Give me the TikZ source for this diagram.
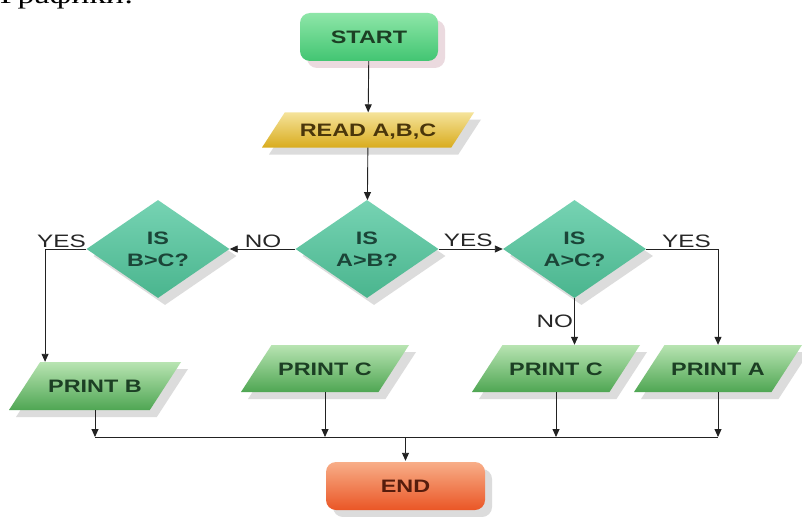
\documentclass[tikz,border=0pt]{standalone}
\usepackage{fontspec}
\setmainfont{Liberation Sans}[FakeStretch=1.35]
\newfontfamily\shapefont{Liberation Sans}[FakeStretch=1.3]
\newfontfamily\serifcyr{Liberation Serif}[FakeStretch=1.3]
\usetikzlibrary{shapes.geometric,arrows.meta,shadows}
\definecolor{startT}{HTML}{8EE6A8}
\definecolor{startB}{HTML}{42C572}
\definecolor{readT}{HTML}{F5E39A}
\definecolor{readB}{HTML}{D9AC1E}
\definecolor{diaT}{HTML}{76D3B3}
\definecolor{diaB}{HTML}{4AB58E}
\definecolor{prT}{HTML}{B8E4B2}
\definecolor{prB}{HTML}{4FA653}
\definecolor{endT}{HTML}{F8AE88}
\definecolor{endB}{HTML}{EA5626}
\definecolor{shd}{HTML}{DCDCDC}
\definecolor{shdpink}{HTML}{EBDADF}
\definecolor{txtG}{HTML}{1C3F24}
\definecolor{txtT}{HTML}{1B4538}
\definecolor{txtR}{HTML}{4A360B}
\definecolor{txtE}{HTML}{561C0C}
\definecolor{lnc}{HTML}{222222}
\begin{document}
\begin{tikzpicture}[x=1pt,y=-1pt,
  base/.style={font=\shapefont\bfseries\fontsize{18}{22}\selectfont, inner sep=2pt},
  shad/.style={drop shadow={shadow xshift=7pt,shadow yshift=-7pt,fill=#1,opacity=1}},
  termbox/.style={base, rectangle, rounded corners=10pt, minimum width=138pt, minimum height=48pt},
  startbox/.style={termbox, top color=startT, bottom color=startB, text=txtG, shad=shdpink},
  endbox/.style={termbox, minimum width=159pt, top color=endT, bottom color=endB, text=txtE, shad=shd},
  iobox/.style={base, trapezium, trapezium left angle=57, trapezium right angle=123,
     trapezium stretches body, text height=13pt, text depth=0pt, inner ysep=17pt, minimum width=168pt},
  readbox/.style={iobox, minimum width=212pt, inner ysep=11pt, top color=readT, bottom color=readB, text=txtR, shad=shd},
  printbox/.style={iobox, top color=prT, bottom color=prB, text=txtG, shad=shd},
  decbox/.style={base, diamond, minimum width=143pt, minimum height=98pt, inner sep=0pt, align=center,
     top color=diaT, bottom color=diaB, text=txtT, shad=shd},
  lbl/.style={font=\fontsize{18}{22}\selectfont, inner sep=1pt, text=black!85},
  arr/.style={draw=lnc, line width=0.9pt, -{Triangle[width=7pt,length=8pt]}},
  ln/.style={draw=lnc, line width=0.9pt}]
\useasboundingbox (0,0) rectangle (802,516);
\fill[white] (0,0) rectangle (802,516);

\node[font=\serifcyr\fontsize{26}{26}\selectfont, anchor=base west, inner sep=0pt] (hdr) at (0,4) {Графики:};

\node[startbox] (start) at (369,37) {START};
\node[readbox] (read) at (368,130) {READ A,B,C};
\node[decbox] (boc) at (158,249) {IS\\B>C?};
\node[decbox] (aob) at (367,249) {IS\\A>B?};
\node[decbox] (aoc) at (574.5,249) {IS\\A>C?};
\node[printbox, minimum width=172pt, inner ysep=17.5pt] (pb) at (95,386) {PRINT B};
\node[printbox] (pc1) at (325,368.5) {PRINT C};
\node[printbox] (pc2) at (556,368.5) {PRINT C};
\node[printbox] (pa) at (718,368.5) {PRINT A};
\node[endbox] (end) at (405.5,486) {END};
\coordinate (bus) at (405.5,437);

\draw[arr] (start) -- (read);
\draw[arr] (read) -- (aob);
\draw[arr] (aob.west) -- (boc.east) node[lbl, pos=.49, above] {NO};
\draw[arr] (aob.east) -- (aoc.west) node[lbl, pos=.46, above=1pt] {YES};
\draw[arr] (boc.west) -| ([xshift=5pt]pb.top left corner) node[lbl, pos=.3, above] {YES};
\draw[arr] (aoc.east) -| (pa.north) node[lbl, pos=.28, above] {YES};
\draw[arr] (aoc.south) -- (aoc.south |- pc2.north) node[lbl, pos=.5, left] {NO};

\draw[arr] (pb.south) -- (pb.south |- bus);
\draw[arr] (pc1.south) -- (pc1.south |- bus);
\draw[arr] (pc2.south) -- (pc2.south |- bus);
\draw[arr] (pa.south) -- (pa.south |- bus);
\draw[ln] (pb.south |- bus) -- (pa.south |- bus);
\draw[arr, shorten >=1pt] (bus) -- (end);
\end{tikzpicture}
\end{document}
